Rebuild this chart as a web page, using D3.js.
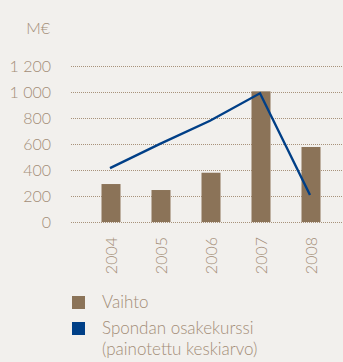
<!DOCTYPE html>
<html>
<head>
<meta charset="utf-8">
<script src="https://cdn.jsdelivr.net/npm/d3@7/dist/d3.min.js"></script>
<style>
  html, body { margin: 0; padding: 0; background: #f2f0ed; }
  svg { display: block; }
  text { font-family: Lato, "Open Sans", sans-serif; font-weight: 300; fill: #a38d77; }
</style>
</head>
<body>
<div id="chart"></div>
<script>
// Revenue (bars) and Sponda share price weighted average (line), M€
const years = ["2004", "2005", "2006", "2007", "2008"];
const vaihto = [292, 246, 379, 1005, 577];
const osakekurssi = [415, 601, 779, 990, 208];
const yTicks = [0, 200, 400, 600, 800, 1000, 1200];
const yTickLabels = ["0", "200", "400", "600", "800", "1 000", "1 200"];
const legendLabels = ["Vaihto", "Spondan osakekurssi", "(painotettu keskiarvo)"];

const W = 343, H = 362;
const barColor = "#8b7358", lineColor = "#003f87", gridColor = "#a8927a";

const svg = d3.select("#chart").append("svg").attr("width", W).attr("height", H);

const x = d3.scaleBand().domain(years).range([86, 336]).paddingInner(0.62).paddingOuter(0.31);
const y = d3.scaleLinear().domain([0, 1200]).range([222, 66]);

// unit label
svg.append("text").attr("x", 50).attr("y", 34).attr("text-anchor", "end")
  .style("font-size", "16px").text("M€");

// dotted gridlines
svg.append("g").selectAll("line").data(yTicks).join("line")
  .attr("x1", 71).attr("x2", W)
  .attr("y1", d => y(d) + 0.5).attr("y2", d => y(d) + 0.5)
  .attr("stroke", gridColor).attr("stroke-width", 1.2)
  .attr("stroke-dasharray", "1,1");

// y tick labels
svg.append("g").selectAll("text").data(yTicks).join("text")
  .attr("x", 51).attr("y", d => y(d) + 6)
  .attr("text-anchor", "end").style("font-size", "16px")
  .text((d, i) => yTickLabels[i]);

// bars
svg.append("g").selectAll("rect").data(vaihto).join("rect")
  .attr("x", (d, i) => x(years[i]))
  .attr("width", x.bandwidth())
  .attr("y", d => y(d))
  .attr("height", d => y(0) - y(d))
  .attr("fill", barColor);

// share price line
const line = d3.line()
  .x((d, i) => x(years[i]) + x.bandwidth() / 2 - 1)
  .y(d => y(d));
svg.append("path").datum(osakekurssi)
  .attr("d", line).attr("fill", "none")
  .attr("stroke", lineColor).attr("stroke-width", 2.4)
  .attr("stroke-linejoin", "miter");

// rotated year labels
svg.append("g").selectAll("text").data(years).join("text")
  .attr("transform", d => `translate(${x(d) + x.bandwidth() / 2 + 5.5},237) rotate(-90)`)
  .attr("text-anchor", "end").style("font-size", "16px")
  .text(d => d);

// legend
const legend = svg.append("g");
legend.append("rect").attr("x", 72).attr("y", 296).attr("width", 13).attr("height", 13).attr("fill", barColor);
legend.append("rect").attr("x", 72).attr("y", 322).attr("width", 13).attr("height", 13).attr("fill", lineColor);
legend.selectAll("text").data(legendLabels).join("text")
  .attr("x", 102).attr("y", (d, i) => [308, 334, 355][i])
  .style("font-size", "17px").text(d => d);
</script>
</body>
</html>
